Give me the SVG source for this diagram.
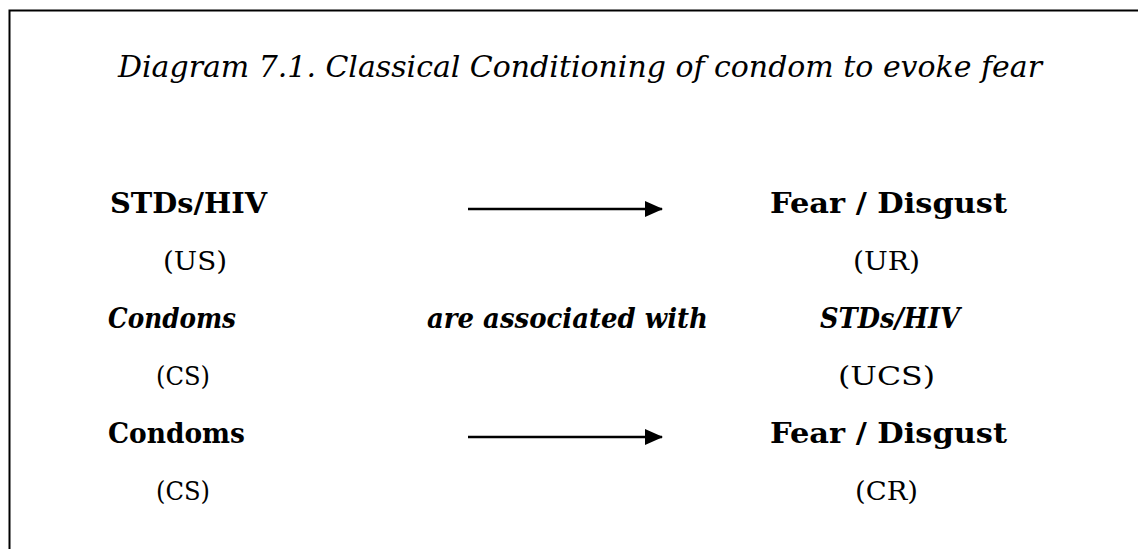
<svg xmlns="http://www.w3.org/2000/svg" width="1138" height="549" viewBox="0 0 1138 549">
  <defs>
    <marker id="head" markerWidth="18" markerHeight="16" refX="17" refY="8" orient="auto" markerUnits="userSpaceOnUse">
      <path d="M0,0 L18,8 L0,16 Z" fill="#000"/>
    </marker>
    <style>
      .t { font-family: "DejaVu Serif", "Liberation Serif", serif; fill: #000; }
      .title { font-size: 29px; font-style: italic; }
      .b { font-size: 28px; font-weight: bold; }
      .bi { font-size: 28px; font-weight: bold; font-style: italic; }
      .r { font-size: 26px; }
      .edge { stroke: #000; stroke-width: 2.6; fill: none; }
    </style>
  </defs>
  <rect width="1138" height="549" fill="#fff"/>
  <!-- frame: top rule and left rule only -->
  <path d="M9.5,549 L9.5,10.5 L1138,10.5" stroke="#000" stroke-width="2" fill="none"/>

  <text class="t title" x="118" y="77" textLength="924" lengthAdjust="spacingAndGlyphs">Diagram 7.1. Classical Conditioning of condom to evoke fear</text>

  <g id="us">
    <text class="t b" x="110" y="213" textLength="157" lengthAdjust="spacingAndGlyphs">STDs/HIV</text>
    <text class="t r" x="163" y="270" textLength="64" lengthAdjust="spacingAndGlyphs">(US)</text>
  </g>
  <g id="ur">
    <text class="t b" x="770" y="213" textLength="237" lengthAdjust="spacingAndGlyphs">Fear / Disgust</text>
    <text class="t r" x="853" y="270" textLength="67" lengthAdjust="spacingAndGlyphs">(UR)</text>
  </g>
  <g id="cs1">
    <text class="t bi" x="108" y="328" textLength="128" lengthAdjust="spacingAndGlyphs">Condoms</text>
    <text class="t r" x="156" y="385" textLength="54" lengthAdjust="spacingAndGlyphs">(CS)</text>
  </g>
  <g id="assoc">
    <text class="t bi" x="427" y="328" textLength="281" lengthAdjust="spacingAndGlyphs">are associated with</text>
  </g>
  <g id="ucs">
    <text class="t bi" x="820" y="328" textLength="140" lengthAdjust="spacingAndGlyphs">STDs/HIV</text>
    <text class="t r" x="838" y="385" textLength="97" lengthAdjust="spacingAndGlyphs">(UCS)</text>
  </g>
  <g id="cs2">
    <text class="t b" x="108" y="443" textLength="137" lengthAdjust="spacingAndGlyphs">Condoms</text>
    <text class="t r" x="156" y="500" textLength="54" lengthAdjust="spacingAndGlyphs">(CS)</text>
  </g>
  <g id="cr">
    <text class="t b" x="770" y="443" textLength="237" lengthAdjust="spacingAndGlyphs">Fear / Disgust</text>
    <text class="t r" x="855" y="500" textLength="63" lengthAdjust="spacingAndGlyphs">(CR)</text>
  </g>

  <g id="connectors">
    <path class="edge" d="M468,209 L662,209" marker-end="url(#head)"/>
    <path class="edge" d="M468,437 L662,437" marker-end="url(#head)"/>
  </g>
</svg>
